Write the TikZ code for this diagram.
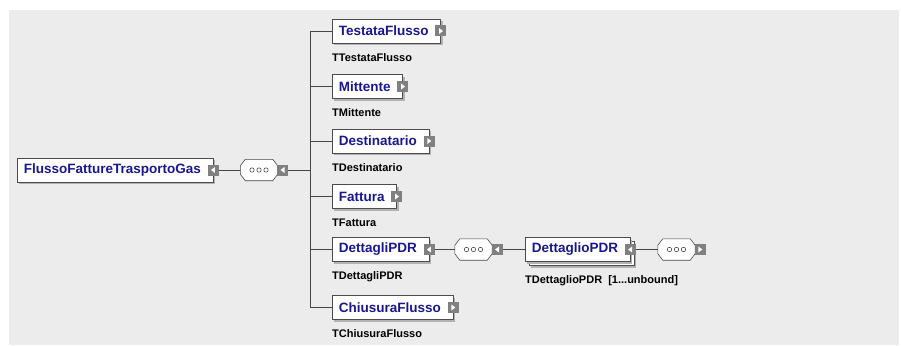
\documentclass[tikz,border=0pt]{standalone}
\usepackage{fontspec}
\setmainfont{Liberation Sans}
\usetikzlibrary{shadows}
\definecolor{bg}{RGB}{236,236,236}
\definecolor{navy}{RGB}{24,24,140}
\definecolor{tabgray}{RGB}{128,128,128}
\definecolor{linegray}{RGB}{70,70,70}
\newcommand\bxt[1]{\kern6.5pt#1\kern12pt}
\begin{document}
\begin{tikzpicture}[x=1pt,y=-1pt,
  shd/.style={drop shadow={shadow xshift=2pt, shadow yshift=-2pt, fill=black!30, opacity=1}},
  elem/.style={draw=black!70, line width=0.6pt, fill=white, font=\fontsize{13.5}{14}\selectfont\bfseries, text=navy, minimum height=24pt, inner sep=0pt, anchor=west, shd},
  typ/.style={font=\fontsize{11}{12}\selectfont\bfseries, inner sep=0pt, anchor=base west},
  gtab/.style={fill=tabgray, minimum size=11pt, inner sep=0pt},
  tabR/.style={gtab, path picture={\fill[white] ([xshift=-1.8pt,yshift=3pt]path picture bounding box.center) -- ([xshift=-1.8pt,yshift=-3pt]path picture bounding box.center) -- ([xshift=2.2pt]path picture bounding box.center) -- cycle;}},
  tabL/.style={gtab, path picture={\fill[white] ([xshift=1.8pt,yshift=3pt]path picture bounding box.center) -- ([xshift=1.8pt,yshift=-3pt]path picture bounding box.center) -- ([xshift=-2.2pt]path picture bounding box.center) -- cycle;}},
  seq/.style={minimum width=37pt, minimum height=21pt, inner sep=0pt},
  octo/.style={draw=black!70, line width=0.6pt, fill=white},
  conn/.style={draw=linegray, line width=0.8pt}
]
\useasboundingbox (0,0) rectangle (901,345);
\fill[bg] (9,10) rectangle (899,345);

% root
\node[elem] (root) at (17,170) {\bxt{FlussoFattureTrasportoGas}};
\node[tabL] (roott) at (root.east) {};
\node[seq] (s1) at (259,170) {};

% children
\node[elem] (tf) at (332,31) {\bxt{TestataFlusso}};
\node[tabR] (tft) at (tf.east) {};
\node[elem] (mi) at (332,86.5) {\bxt{Mittente}};
\node[tabR] (mit) at (mi.east) {};
\node[elem] (de) at (332,141) {\bxt{Destinatario}};
\node[tabR] (det) at (de.east) {};
\node[elem] (fa) at (332,196.5) {\bxt{Fattura}};
\node[tabR] (fat) at (fa.east) {};
\node[elem] (dp) at (332,249.5) {\bxt{DettagliPDR}};
\node[tabL] (dpt) at (dp.east) {};
\node[elem] (ch) at (332,307.5) {\bxt{ChiusuraFlusso}};
\node[tabR] (cht) at (ch.east) {};

\node[seq] (s2) at (473.5,249.5) {};

\node[elem] (dprb) at (529,253.5) {\bxt{\phantom{DettaglioPDR}}};
\node[elem] (dpr) at (525,249.5) {\bxt{DettaglioPDR}};
\node[tabL] (dprt) at (dpr.east) {};

\node[seq] (s3) at (676.5,249.5) {};

% sequence compositors (octagons)
\foreach \s in {s1,s2,s3} {
  \fill[black!30, xshift=2pt, yshift=-2pt] ([xshift=5pt]\s.north west) -- ([xshift=-5pt]\s.north east) -- ([yshift=-6.5pt]\s.north east) -- ([yshift=6.5pt]\s.south east) -- ([xshift=-5pt]\s.south east) -- ([xshift=5pt]\s.south west) -- ([yshift=6.5pt]\s.south west) -- ([yshift=-6.5pt]\s.north west) -- cycle;
  \path[octo] ([xshift=5pt]\s.north west) -- ([xshift=-5pt]\s.north east) -- ([yshift=-6.5pt]\s.north east) -- ([yshift=6.5pt]\s.south east) -- ([xshift=-5pt]\s.south east) -- ([xshift=5pt]\s.south west) -- ([yshift=6.5pt]\s.south west) -- ([yshift=-6.5pt]\s.north west) -- cycle;
  \foreach \dx in {-7,0,7} \draw[line width=0.5pt, black!80] ([xshift=\dx pt]\s.center) circle (2.2pt);
}
\node[tabL] (s1t) at ([xshift=5pt]s1.east) {};
\node[tabL] (s2t) at ([xshift=5pt]s2.east) {};
\node[tabR] (s3t) at ([xshift=5pt]s3.east) {};

% type labels
\node[typ] (ltf) at ([yshift=-18pt]tf.south west) {TTestataFlusso};
\node[typ] (lmi) at ([yshift=-18pt]mi.south west) {TMittente};
\node[typ] (lde) at ([yshift=-18pt]de.south west) {TDestinatario};
\node[typ] (lfa) at ([yshift=-18pt]fa.south west) {TFattura};
\node[typ] (ldp) at ([yshift=-18pt]dp.south west) {TDettagliPDR};
\node[typ] (lch) at ([yshift=-18pt]ch.south west) {TChiusuraFlusso};
\node[typ] (ldpr) at ([yshift=-22pt]dpr.south west) {TDettaglioPDR\ \ [1...unbound]};

% connectors
\coordinate (bus) at (310,170);
\coordinate (bustop) at (310,31);
\coordinate (busbot) at (310,307.5);
\draw[conn] (roott.east) -- (s1.west);
\draw[conn] (s1t.east) -- (bus);
\draw[conn] (bustop) -- (busbot);
\foreach \n in {tf,mi,de,fa,dp,ch} \draw[conn] (\n.west) -- (\n.west -| bus);
\draw[conn] (dpt.east) -- (s2.west);
\draw[conn] (s2t.east) -- (dpr.west);
\draw[conn] (dprt.east) -- (s3.west);
\end{tikzpicture}
\end{document}
